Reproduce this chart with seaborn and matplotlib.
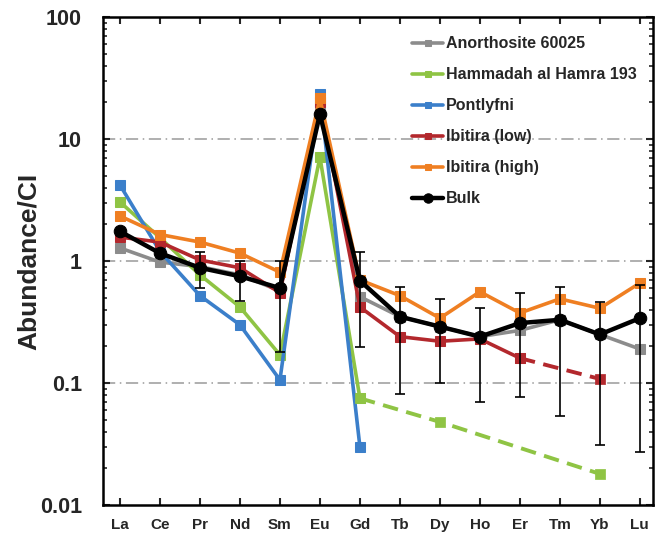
import numpy as np
import pandas as pd
import matplotlib
matplotlib.use("Agg")
import matplotlib.pyplot as plt
import seaborn as sns
from matplotlib.ticker import LogLocator, FixedLocator, NullFormatter

sns.set_style("ticks")
plt.rcParams["font.family"] = ["Liberation Sans", "DejaVu Sans"]
plt.rcParams["font.weight"] = "bold"

# REE data (CI-normalised)
elements = ["La", "Ce", "Pr", "Nd", "Sm", "Eu", "Gd", "Tb", "Dy", "Ho", "Er", "Tm", "Yb", "Lu"]
nan = np.nan

anorthosite = [1.28, 0.98, 0.90, 0.77, 0.57, 19.0, 0.51, 0.35, 0.29, 0.24, 0.27, 0.33, 0.25, 0.19]
hammadah = [3.05, 1.55, 0.77, 0.42, 0.17, 7.1, 0.075, nan, nan, nan, nan, nan, nan, nan]
hammadah_dash = [nan, nan, nan, nan, nan, nan, 0.075, nan, 0.048, nan, nan, nan, 0.018, nan]
pontlyfni = [4.2, 1.2, 0.52, 0.30, 0.106, 23.5, 0.030, nan, nan, nan, nan, nan, nan, nan]
ibitira_low = [1.57, 1.43, 1.02, 0.88, 0.55, 20.0, 0.42, 0.24, 0.22, 0.23, 0.16, nan, nan, nan]
ibitira_low_dash = [nan, nan, nan, nan, nan, nan, nan, nan, nan, nan, 0.16, nan, 0.108, nan]
ibitira_high = [2.34, 1.65, 1.43, 1.16, 0.81, 21.5, 0.70, 0.52, 0.34, 0.56, 0.375, 0.49, 0.41, 0.66]
bulk = [1.75, 1.16, 0.88, 0.75, 0.60, 16.0, 0.69, 0.35, 0.29, 0.24, 0.31, 0.33, 0.25, 0.34]
bulk_lo = [nan, nan, 0.60, 0.47, 0.18, nan, 0.197, 0.081, 0.10, 0.07, 0.077, 0.054, 0.031, 0.027]
bulk_hi = [nan, nan, 1.19, 1.00, 1.00, nan, 1.19, 0.61, 0.49, 0.41, 0.55, 0.61, 0.46, 0.64]

pos = np.arange(len(elements))

series = [
    ("Anorthosite 60025", anorthosite, "#8c8c8c"),
    ("Hammadah al Hamra 193", hammadah, "#8fc444"),
    ("Pontlyfni", pontlyfni, "#3b7fca"),
    ("Ibitira (low)", ibitira_low, "#b3282d"),
    ("Ibitira (high)", ibitira_high, "#ef7f22"),
]
dashed = [(hammadah_dash, "#8fc444"), (ibitira_low_dash, "#b3282d")]

fig = plt.figure(figsize=(6.63, 5.41), dpi=100)
ax = fig.add_axes([0.155, 0.0665, 0.83, 0.902])

for label, vals, color in series:
    df = pd.DataFrame({"x": pos, "y": vals}).dropna()
    sns.lineplot(data=df, x="x", y="y", ax=ax, color=color, lw=2.6,
                 marker="s", markersize=6.5, markeredgecolor=color, label=label)

for vals, color in dashed:
    df = pd.DataFrame({"x": pos, "y": vals}).dropna()
    sns.lineplot(data=df, x="x", y="y", ax=ax, color=color, lw=2.8,
                 linestyle=(0, (4, 2.2)), legend=False)
    sns.scatterplot(data=df, x="x", y="y", ax=ax, color=color, marker="s",
                    s=42, edgecolor=color, legend=False, zorder=3)

# bulk error bars
lo = np.array(bulk_lo)
hi = np.array(bulk_hi)
b = np.array(bulk)
ax.errorbar(pos, b, yerr=[b - lo, hi - b], fmt="none", ecolor="black",
            elinewidth=1.2, capsize=3.5, capthick=1.2, zorder=4)

df = pd.DataFrame({"x": pos, "y": bulk})
sns.lineplot(data=df, x="x", y="y", ax=ax, color="black", lw=3.2,
             marker="o", markersize=9, markeredgecolor="black", label="Bulk", zorder=5)

ax.set_yscale("log")
ax.set_ylim(0.01, 100)
ax.set_xlim(-0.43, 13.33)
ax.set_xticks(pos)
ax.set_xticklabels(elements, fontsize=11, fontweight="bold")
ax.yaxis.set_major_locator(FixedLocator([0.01, 0.1, 1, 10, 100]))
ax.set_yticklabels(["0.01", "0.1", "1", "10", "100"], fontsize=15.5, fontweight="bold")
ax.yaxis.set_minor_locator(LogLocator(base=10, subs=np.arange(2, 10)))
ax.yaxis.set_minor_formatter(NullFormatter())
ax.set_xlabel("")
ax.set_ylabel("Abundance/CI", fontsize=19, fontweight="bold", labelpad=-1)

for y in [0.1, 1, 10]:
    ax.axhline(y, color="#9a9a9a", lw=1.1, linestyle=(0, (8, 3, 1, 3)), zorder=0)

ax.tick_params(axis="x", which="major", direction="in", length=5, width=1.5,
               top=True, pad=9)
ax.tick_params(axis="y", which="major", direction="in", length=5, width=1.5,
               right=True, pad=15)
ax.tick_params(axis="y", which="minor", direction="in", length=3, width=1.2,
               left=True, right=True)
for s in ax.spines.values():
    s.set_linewidth(1.8)
    s.set_color("black")

leg = ax.legend(loc="upper left", bbox_to_anchor=(0.535, 0.99), frameon=False,
                handlelength=2.0, handletextpad=0.15, labelspacing=1.0,
                markerscale=0.75, prop={"weight": "bold", "size": 11.5})

fig.savefig("out.png", dpi=100)
